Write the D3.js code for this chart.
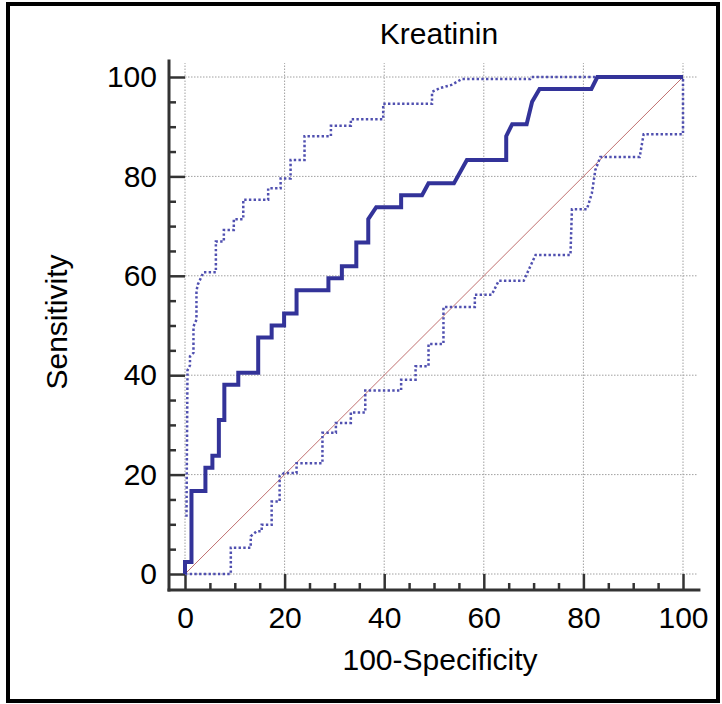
<!DOCTYPE html>
<html>
<head>
<meta charset="utf-8">
<script src="https://cdn.jsdelivr.net/npm/d3@7"></script>
<style>
  body { margin: 0; background: #fff; }
  svg { display: block; font-family: "Liberation Sans", Arial, sans-serif; }
</style>
</head>
<body>
<svg id="chart" width="722" height="704"></svg>
<script>
// ROC curve (100-specificity, sensitivity)
var rocFpr = [0, 0, 1.3, 1.3, 4.1, 4.1, 5.5, 5.5, 6.8, 6.8, 7.9, 7.9, 10.7, 10.7, 14.7, 14.7, 17.4, 17.4, 19.9, 19.9,
  22.4, 22.4, 28.8, 28.8, 31.5, 31.5, 34.4, 34.4, 36.8, 36.8, 38.4, 43.4, 43.4, 47.6, 48.9, 54.0, 56.6, 64.5, 64.5,
  65.7, 68.6, 69.7, 71.2, 81.6, 82.8, 100];
var rocTpr = [0, 2.4, 2.4, 16.7, 16.7, 21.4, 21.4, 23.8, 23.8, 31.0, 31.0, 38.1, 38.1, 40.5, 40.5, 47.6, 47.6, 50.0, 50.0, 52.4,
  52.4, 57.1, 57.1, 59.5, 59.5, 61.9, 61.9, 66.7, 66.7, 71.4, 73.8, 73.8, 76.2, 76.2, 78.6, 78.6, 83.3, 83.3, 88.1,
  90.5, 90.5, 95.0, 97.6, 97.6, 100, 100];

// upper confidence bound
var upperFpr = [0.3, 0.5, 1.0, 1.0, 1.7, 1.7, 2.3, 2.3, 2.6, 3.7, 6.2, 6.2, 7.8, 7.8, 9.8, 9.8, 11.7, 11.7, 16.7, 16.7,
  19.2, 19.2, 21.2, 21.2, 24.0, 24.0, 29.3, 29.3, 33.3, 33.3, 39.8, 39.8, 49.6, 49.6, 51.3, 53.5, 55.6, 69.3, 69.5, 100];
var upperTpr = [11.5, 41.0, 42.0, 43.8, 44.5, 49.8, 51.2, 57.0, 58.3, 60.7, 60.7, 66.9, 66.9, 69.2, 69.2, 71.4, 71.4, 75.3, 75.3, 77.6,
  77.6, 79.6, 79.6, 83.3, 83.3, 88.1, 88.1, 90.2, 90.2, 91.5, 91.5, 94.6, 94.6, 97.0, 97.8, 98.4, 99.6, 99.6, 100, 100];

// lower confidence bound
var lowerFpr = [0, 9.2, 9.2, 13.2, 13.2, 14.4, 15.4, 15.4, 17.4, 17.4, 19.0, 19.0, 19.9, 22.4, 22.4, 27.6, 27.6, 30.3, 30.3,
  33.3, 33.3, 36.2, 36.2, 43.4, 43.4, 46.3, 46.3, 48.9, 48.9, 51.9, 51.9, 58.2, 58.2, 61.6, 63.0, 68.0, 68.7, 70.4, 77.4,
  77.7, 80.7, 81.7, 82.4, 83.4, 91.3, 92.1, 100, 100];
var lowerTpr = [0, 0, 5.3, 5.3, 7.6, 8.6, 8.6, 9.9, 9.9, 14.6, 14.6, 19.7, 20.3, 20.3, 22.3, 22.3, 28.4, 28.4, 30.4,
  30.4, 32.5, 32.5, 36.9, 36.9, 39.1, 39.1, 41.8, 41.8, 46.3, 46.3, 53.7, 53.7, 56.2, 56.2, 59.0, 59.0, 60.5, 64.2, 64.2,
  73.4, 73.4, 76.6, 81.3, 83.9, 83.9, 88.5, 88.5, 100];

var refFpr = [0, 100];
var refTpr = [0, 100];

var majorTicks = [0, 20, 40, 60, 80, 100];
var minorTicks = d3.range(0, 101, 5).filter(function(d) { return d % 20 != 0; });

var titleText = "Kreatinin";
var xTitle = "100-Specificity";
var yTitle = "Sensitivity";

function zip(a, b) {
    return a.map(function(d, i) { return [d, b[i]]; });
}

var svg = d3.select("#chart");
var x = d3.scaleLinear().domain([0, 100]).range([185, 683]);
var y = d3.scaleLinear().domain([0, 100]).range([574, 77]);
var axisX = 169, axisY = 590;

// frame round the picture
svg.append("rect")
    .attr("x", 8).attr("y", 4)
    .attr("width", 710).attr("height", 697)
    .attr("fill", "none")
    .attr("stroke", "#000")
    .attr("stroke-width", 4);

// grid
var grid = svg.append("g")
    .attr("stroke", "#a0a0a0")
    .attr("stroke-width", 1)
    .attr("stroke-dasharray", "1.5,1.5");
grid.selectAll(".vg").data(majorTicks).enter().append("line")
    .attr("x1", function(d) { return x(d); })
    .attr("x2", function(d) { return x(d); })
    .attr("y1", y(0)).attr("y2", y(102.8));
grid.selectAll(".hg").data(majorTicks).enter().append("line")
    .attr("y1", function(d) { return y(d); })
    .attr("y2", function(d) { return y(d); })
    .attr("x1", x(0)).attr("x2", x(102.8));

// axes
function styleAxis(g) {
    g.select(".domain").remove();
    g.selectAll(".tick line").attr("stroke", "#333").attr("stroke-width", 2.5);
    g.selectAll(".tick text").attr("fill", "#000").style("font-size", "30px");
}

svg.append("g")
    .attr("transform", "translate(" + axisX + ",0)")
    .call(d3.axisLeft(y).tickValues(majorTicks).tickSize(-(x(0) - axisX)).tickPadding(12))
    .call(styleAxis);
svg.append("g")
    .attr("transform", "translate(" + axisX + ",0)")
    .call(d3.axisLeft(y).tickValues(minorTicks).tickSize(-7).tickFormat(""))
    .call(styleAxis);
svg.append("g")
    .attr("transform", "translate(0," + axisY + ")")
    .call(d3.axisBottom(x).tickValues(majorTicks).tickSize(-(axisY - y(0))).tickPadding(17))
    .call(styleAxis);
svg.append("g")
    .attr("transform", "translate(0," + axisY + ")")
    .call(d3.axisBottom(x).tickValues(minorTicks).tickSize(-7).tickFormat(""))
    .call(styleAxis);

svg.append("line")
    .attr("x1", axisX).attr("x2", axisX)
    .attr("y1", y(103.5)).attr("y2", axisY + 1.5)
    .attr("stroke", "#333").attr("stroke-width", 3);
svg.append("line")
    .attr("x1", axisX - 1.5).attr("x2", x(103.5))
    .attr("y1", axisY).attr("y2", axisY)
    .attr("stroke", "#333").attr("stroke-width", 3);

// curves
var line = d3.line()
    .x(function(d) { return x(d[0]); })
    .y(function(d) { return y(d[1]); });

svg.append("path")
    .datum(zip(refFpr, refTpr))
    .attr("d", line)
    .attr("fill", "none")
    .attr("stroke", "#c07070")
    .attr("stroke-width", 1);

[zip(upperFpr, upperTpr), zip(lowerFpr, lowerTpr)].forEach(function(band) {
    svg.append("path")
        .datum(band)
        .attr("d", line)
        .attr("fill", "none")
        .attr("stroke", "#5050b0")
        .attr("stroke-width", 2.5)
        .attr("stroke-dasharray", "2.4,2.3");
});

svg.append("path")
    .datum(zip(rocFpr, rocTpr))
    .attr("d", line)
    .attr("fill", "none")
    .attr("stroke", "#333399")
    .attr("stroke-width", 4)
    .attr("stroke-linejoin", "miter");

// titles
svg.append("text")
    .attr("x", 439).attr("y", 44)
    .attr("text-anchor", "middle")
    .style("font-size", "30px")
    .text(titleText);
svg.append("text")
    .attr("x", 440).attr("y", 670)
    .attr("text-anchor", "middle")
    .style("font-size", "30px")
    .text(xTitle);
svg.append("text")
    .attr("transform", "translate(67,322) rotate(-90)")
    .attr("text-anchor", "middle")
    .style("font-size", "30px")
    .text(yTitle);
</script>
</body>
</html>
